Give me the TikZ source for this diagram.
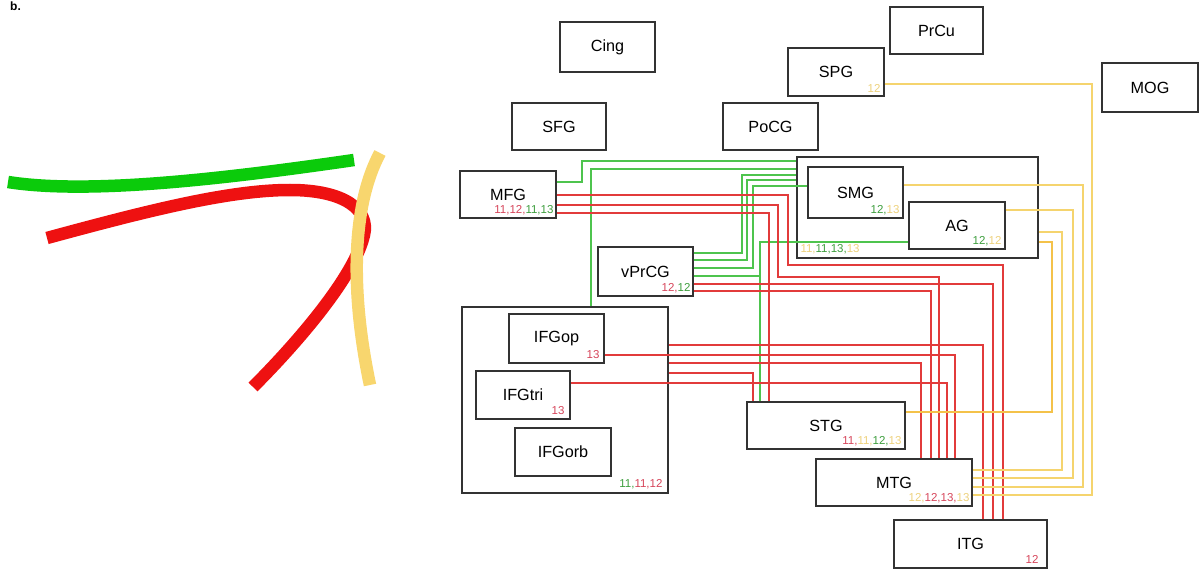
\documentclass[tikz,border=0pt]{standalone}
\usepackage{fontspec}
\setmainfont{Liberation Sans}
\usetikzlibrary{calc}
\definecolor{boxc}{HTML}{333333}
\definecolor{lgreen}{HTML}{4EC44E}
\definecolor{lred}{HTML}{E23B3B}
\definecolor{lyel}{HTML}{F5D46E}
\definecolor{tyel}{HTML}{F4C24A}
\definecolor{cgreen}{HTML}{0BCB0B}
\definecolor{cred}{HTML}{EE1111}
\definecolor{cyel}{HTML}{F8D66E}
\definecolor{nred}{HTML}{D6455A}
\definecolor{ngreen}{HTML}{3E9E3E}
\definecolor{nyel}{HTML}{EDD17C}
\newcommand{\numr}[1]{\textcolor{nred}{#1}}
\newcommand{\numg}[1]{\textcolor{ngreen}{#1}}
\newcommand{\numy}[1]{\textcolor{nyel}{#1}}
\begin{document}
\begin{tikzpicture}[x=1pt,y=-1pt,
  box/.style={draw=boxc, line width=1.3pt, inner sep=0pt, font=\fontsize{16.2}{19}\selectfont},
  num/.style={font=\fontsize{11.5}{13}\selectfont, inner sep=0pt, anchor=base east},
  gl/.style={draw=lgreen, line width=1.2pt},
  rl/.style={draw=lred, line width=1.2pt},
  yl/.style={draw=lyel, line width=1.2pt},
  ylt/.style={draw=tyel, line width=2.6pt},
  fibre/.style={line width=12.5pt}]
\useasboundingbox (0,0) rectangle (1202,569);

% left panel
\node[anchor=base west, inner sep=0pt, font=\bfseries\fontsize{12}{14}\selectfont] (blabel) at (10,11) {b.};
\draw[fibre, cgreen] (8,182) .. controls (90,195) and (230,178) .. (354,160);
\draw[fibre, cred] (47,238) .. controls (150,210) and (230,190) .. (290,190)
   .. controls (345,190) and (370,210) .. (364,235)
   .. controls (355,275) and (300,340) .. (253,387);
\draw[fibre, cyel] (380,153) .. controls (352,205) and (350,290) .. (370,385);

% containers
\node[box, minimum width=241pt, minimum height=101pt] (pcont) at (917.5,207.5) {};
\node[box, minimum width=206pt, minimum height=186pt] (ifg) at (565,400) {};

% boxes
\node[box, minimum width=95pt, minimum height=50pt] (cing) at (607.5,47) {Cing};
\node[box, minimum width=93pt, minimum height=47pt] (prcu) at (936.5,30.5) {PrCu};
\node[box, minimum width=96pt, minimum height=48pt] (spg) at (836,72) {SPG};
\node[box, minimum width=96pt, minimum height=49pt] (mog) at (1150,87.5) {MOG};
\node[box, minimum width=94pt, minimum height=47pt] (sfg) at (559,126.5) {SFG};
\node[box, minimum width=95pt, minimum height=47pt] (pocg) at (770.5,126.5) {PoCG};
\node[box, minimum width=96pt, minimum height=47pt] (mfg) at (508,194.5) {MFG};
\node[box, minimum width=95pt, minimum height=51pt] (smg) at (855.5,192.5) {SMG};
\node[box, minimum width=96pt, minimum height=47pt] (ag) at (957,225.5) {AG};
\node[box, minimum width=95pt, minimum height=49pt] (vprcg) at (645.5,271.5) {vPrCG};
\node[box, minimum width=95pt, minimum height=49pt] (ifgop) at (556.5,338.5) {IFGop};
\node[box, minimum width=94pt, minimum height=48pt] (ifgtri) at (523,395) {IFGtri};
\node[box, minimum width=96pt, minimum height=48pt] (ifgorb) at (563,452) {IFGorb};
\node[box, minimum width=158pt, minimum height=47pt] (stg) at (826,425.5) {STG};
\node[box, minimum width=156pt, minimum height=47pt] (mtg) at (894,482.5) {MTG};
\node[box, minimum width=153pt, minimum height=48pt] (itg) at (970.5,544) {ITG};

% number labels
\node[num] (spgn) at ($(spg.south east)+(-4,-4)$) {\numy{12}};
\node[num] (mfgn) at ($(mfg.south east)+(-3,-5)$) {\numr{11,}\numr{12,}\numg{11,}\numg{13}};
\node[num] (smgn) at ($(smg.south east)+(-4,-5)$) {\numg{12,}\numy{13}};
\node[num] (agn) at ($(ag.south east)+(-4,-5)$) {\numg{12,}\numy{12}};
\node[num, anchor=base west] (pcontn) at ($(pcont.south west)+(4,-6)$) {\numy{11,}\numg{11,}\numg{13,}\numy{13}};
\node[num] (vprcgn) at ($(vprcg.south east)+(-3,-5)$) {\numr{12,}\numg{12}};
\node[num] (ifgopn) at ($(ifgop.south east)+(-5,-5)$) {\numr{13}};
\node[num] (ifgtrin) at ($(ifgtri.south east)+(-6,-5)$) {\numr{13}};
\node[num] (ifgn) at ($(ifg.south east)+(-6,-6)$) {\numg{11,}\numr{11,}\numr{12}};
\node[num] (stgn) at ($(stg.south east)+(-4,-5)$) {\numr{11,}\numy{11,}\numg{12,}\numy{13}};
\node[num] (mtgn) at ($(mtg.south east)+(-3,-5)$) {\numy{12,}\numr{12,}\numr{13,}\numy{13}};
\node[num] (itgn) at ($(itg.south east)+(-9,-5)$) {\numr{12}};

% green connectors
\draw[gl] (mfg.east |- 0,182) -| (582,161) -- (pcont.west |- 0,161);
\draw[gl] (ifg.north -| 591,0) |- (pcont.west |- 0,169);
\draw[gl] (vprcg.east |- 0,253) -| (742,175) -- (pcont.west |- 0,175);
\draw[gl] (vprcg.east |- 0,260) -| (747,180) -- (pcont.west |- 0,180);
\draw[gl] (vprcg.east |- 0,268) -| (753,186) -- (smg.west |- 0,186);
\draw[gl] (ag.west |- 0,242) -| (stg.north -| 760,0);
\draw[gl] (vprcg.east |- 0,276) -| (stg.north -| 760,0);

% red connectors
\draw[rl] (mfg.east |- 0,195) -| (788,265) -| (itg.north -| 1003,0);
\draw[rl] (mfg.east |- 0,205) -| (778,277) -| (mtg.north -| 939,0);
\draw[rl] (mfg.east |- 0,213) -| (stg.north -| 769,0);
\draw[rl] (vprcg.east |- 0,284) -| (itg.north -| 993,0);
\draw[rl] (vprcg.east |- 0,291) -| (mtg.north -| 931,0);
\draw[rl] (ifg.east |- 0,345) -| (itg.north -| 983,0);
\draw[rl] (ifgop.east |- 0,355) -| (mtg.north -| 955,0);
\draw[rl] (ifg.east |- 0,363) -| (mtg.north -| 921,0);
\draw[rl] (ifg.east |- 0,373) -| (stg.north -| 753,0);
\draw[rl] (ifgtri.east |- 0,383) -| (mtg.north -| 947,0);

% yellow connectors
\draw[yl] (spg.east |- 0,84) -| (1092,495) -- (mtg.east |- 0,495);
\draw[yl] (smg.east |- 0,185) -| (1083,487) -- (mtg.east |- 0,487);
\draw[yl] (ag.east |- 0,210) -| (1073,478) -- (mtg.east |- 0,478);
\draw[yl] (pcont.east |- 0,232) -| (1062,470) -- (mtg.east |- 0,470);
\draw[ylt] (pcont.east |- 0,242) -| (1052,412) -- (stg.east |- 0,412);
\end{tikzpicture}
\end{document}
